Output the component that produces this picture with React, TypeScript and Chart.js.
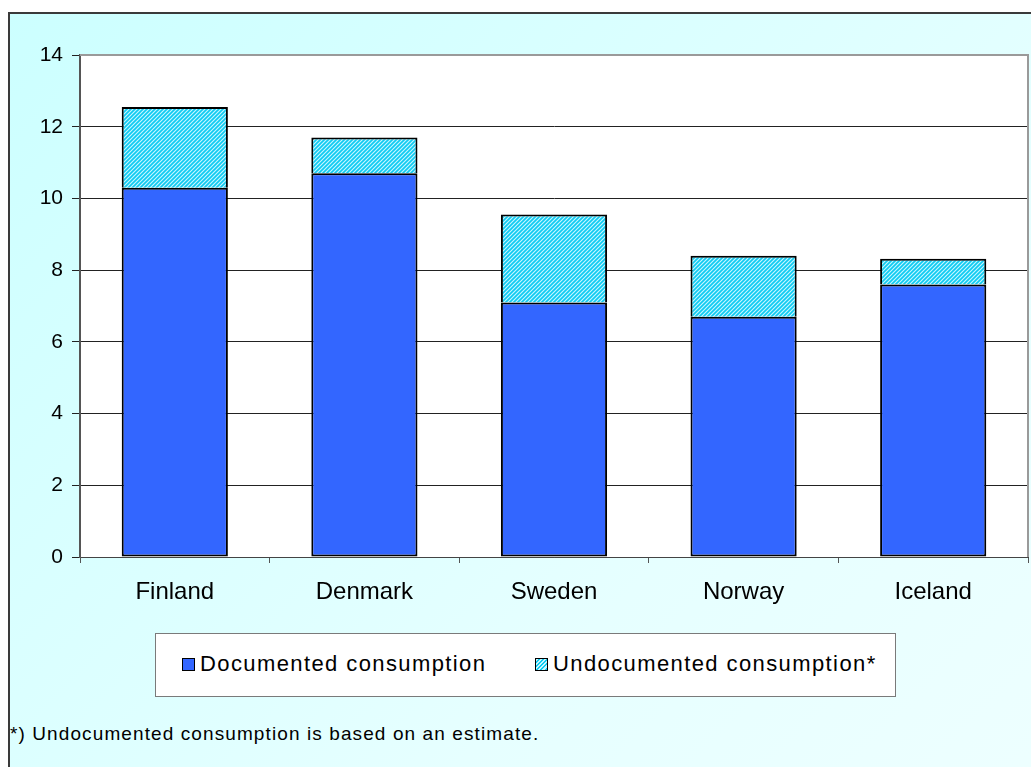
import React, { useEffect, useRef } from "react";
import { Chart, registerables } from "chart.js";

Chart.register(...registerables);

const categories = ["Finland", "Denmark", "Sweden", "Norway", "Iceland"];
const documented = [10.3, 10.7, 7.1, 6.7, 7.6];
const undocumented = [2.25, 1.0, 2.45, 1.7, 0.72];
const seriesNames = ["Documented consumption", "Undocumented consumption*"];
const footnote = "*) Undocumented consumption is based on an estimate.";
const yMin = 0;
const yMax = 14;
const yStep = 2;

const FONT = "Arial, 'Liberation Sans', sans-serif";
const BLUE = "#3366FF";

function makePattern(): CanvasPattern | string {
  const c = document.createElement("canvas");
  c.width = 4;
  c.height = 4;
  const g = c.getContext("2d");
  if (!g) return "#33ccff";
  g.fillStyle = "#c8f6ff";
  g.fillRect(0, 0, 4, 4);
  g.strokeStyle = "#0fcbf2";
  g.lineWidth = 1.7;
  g.beginPath();
  g.moveTo(-1, 5);
  g.lineTo(5, -1);
  g.moveTo(-3, 3);
  g.lineTo(3, -3);
  g.moveTo(1, 7);
  g.lineTo(7, 1);
  g.stroke();
  const p = g.createPattern(c, "repeat");
  return p || "#33ccff";
}

const plotBg = {
  id: "plotBg",
  beforeDraw(chart: any) {
    const { ctx, chartArea } = chart;
    ctx.save();
    ctx.fillStyle = "#ffffff";
    ctx.fillRect(chartArea.left, chartArea.top, chartArea.right - chartArea.left, chartArea.bottom - chartArea.top);
    ctx.restore();
  },
  afterDatasetsDraw(chart: any) {
    const { ctx, chartArea } = chart;
    ctx.save();
    ctx.strokeStyle = "#9a9a9a";
    ctx.lineWidth = 2;
    ctx.beginPath();
    ctx.moveTo(chartArea.left, chartArea.top);
    ctx.lineTo(chartArea.right, chartArea.top);
    ctx.lineTo(chartArea.right, chartArea.bottom);
    ctx.stroke();
    ctx.restore();
  },
};

export default function App() {
  const ref = useRef<HTMLCanvasElement>(null);
  useEffect(() => {
    if (!ref.current) return;
    const pattern = makePattern();
    const chart = new Chart(ref.current, {
      type: "bar",
      data: {
        labels: categories,
        datasets: [
          {
            label: seriesNames[0],
            data: documented,
            backgroundColor: BLUE,
            borderColor: "#000000",
            borderWidth: 2,
            borderSkipped: false,
            barPercentage: 0.56,
            categoryPercentage: 1,
          },
          {
            label: seriesNames[1],
            data: undocumented,
            backgroundColor: pattern as any,
            borderColor: "#000000",
            borderWidth: 2,
            borderSkipped: "bottom",
            barPercentage: 0.56,
            categoryPercentage: 1,
          },
        ],
      },
      options: {
        animation: false,
        responsive: false,
        maintainAspectRatio: false,
        layout: { padding: { left: 0, top: 55, right: 3, bottom: 0 } },
        plugins: {
          legend: { display: false },
          tooltip: { enabled: false },
          title: { display: false },
        },
        scales: {
          x: {
            stacked: true,
            grid: {
              drawOnChartArea: false,
              drawTicks: true,
              tickLength: 6,
              color: "#555555",
              offset: true,
            },
            border: { display: true, color: "#444444", width: 1 },
            ticks: {
              color: "#000000",
              font: { family: FONT, size: 24 },
              padding: 15,
            },
            afterFit(scale: any) {
              scale.height = 63;
            },
          },
          y: {
            stacked: true,
            min: yMin,
            max: yMax,
            grid: {
              color: (ctx: any) => (ctx.tick && ctx.tick.value === yMax ? "#9a9a9a" : "#222222"),
              lineWidth: 1,
              drawTicks: true,
              tickLength: 8,
              tickColor: "#222222",
            },
            border: { display: true, color: "#555555", width: 2 },
            ticks: {
              stepSize: yStep,
              color: "#000000",
              font: { family: FONT, size: 21 },
              padding: 9,
            },
            afterFit(scale: any) {
              scale.width = 80;
            },
          },
        },
      },
      plugins: [plotBg],
    });
    return () => chart.destroy();
  }, []);

  const swatch = (kind: number) => ({
    display: "inline-block",
    width: 11,
    height: 11,
    border: "1px solid #000",
    background:
      kind === 0
        ? BLUE
        : "repeating-linear-gradient(135deg, #c8f6ff 0px, #c8f6ff 1.5px, #0fcbf2 1.5px, #0fcbf2 3px)",
    marginRight: 5,
    verticalAlign: "middle",
    position: "relative" as const,
    top: -1,
  });

  return (
    <div
      style={{
        position: "fixed",
        left: 0,
        top: 0,
        width: 1031,
        height: 767,
        overflow: "hidden",
        background: "#ffffff",
        fontFamily: FONT,
      }}
    >
      <div
        style={{
          position: "absolute",
          left: 8,
          top: 12,
          width: 1100,
          height: 900,
          border: "2px solid #3a3a3a",
          background: "linear-gradient(135deg, #ccffff 0%, #e6ffff 60%, #f0ffff 100%)",
        }}
      />
      <canvas ref={ref} width={1031} height={620} style={{ position: "absolute", left: 0, top: 0, width: 1031, height: 620 }} />
      <div
        style={{
          position: "absolute",
          left: 155,
          top: 633,
          width: 739,
          height: 62,
          border: "1px solid #7a7a7a",
          background: "#ffffff",
          fontSize: 22,
          letterSpacing: "1.4px",
          color: "#000",
          lineHeight: "60px",
          whiteSpace: "nowrap",
        }}
      >
        <span style={{ position: "absolute", left: 26, top: 0 }}>
          <span style={swatch(0)} />
          {seriesNames[0]}
        </span>
        <span style={{ position: "absolute", left: 379, top: 0 }}>
          <span style={swatch(1)} />
          {seriesNames[1]}
        </span>
      </div>
      <div
        style={{
          position: "absolute",
          left: 10,
          top: 723,
          fontSize: 19,
          letterSpacing: "1.1px",
          color: "#000",
          whiteSpace: "nowrap",
        }}
      >
        {footnote}
      </div>
    </div>
  );
}
